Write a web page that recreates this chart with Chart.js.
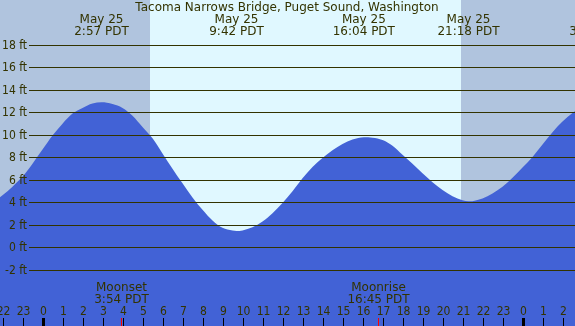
<!DOCTYPE html>
<html>
<head>
<meta charset="utf-8">
<script src="https://cdn.jsdelivr.net/npm/chart.js@4"></script>
<style>
  body { margin: 0; background: #fff; }
  #wrap { width: 575px; height: 326px; }
</style>
</head>
<body>
<div id="wrap"><canvas id="tide" width="575" height="326"></canvas></div>
<script>
// tide heights (ft), hours since midnight May 25
const tideHours = [
  -3, -2.5, -2, -1.5, -1, -0.5, 0, 0.5, 1, 1.5, 2, 2.5, 2.95,
  3.5, 4, 4.5, 5, 5.5, 6, 6.5, 7, 7.5, 8, 8.5, 9, 9.5, 9.7,
  10, 10.5, 11, 11.5, 12, 12.5, 13, 13.5, 14, 14.5, 15, 15.5, 16.07,
  16.5, 17, 17.5, 18, 18.5, 19, 19.5, 20, 20.5, 21, 21.3,
  21.5, 22, 22.5, 23, 23.5, 24, 24.5, 25, 25.5, 26, 26.5, 27,
];
const tideFeet = [
  3.6, 4.0, 4.65, 5.4, 6.3, 7.45, 8.7, 9.95, 11.0, 11.9, 12.4, 12.8, 12.9,
  12.75, 12.4, 11.7, 10.7, 9.7, 8.35, 7.0, 5.7, 4.45, 3.35, 2.4, 1.75, 1.5, 1.47,
  1.52, 1.8, 2.3, 3.05, 3.95, 5.0, 6.15, 7.15, 7.95, 8.65, 9.2, 9.6, 9.8,
  9.75, 9.55, 9.05, 8.25, 7.45, 6.6, 5.8, 5.1, 4.55, 4.2, 4.1,
  4.12, 4.35, 4.8, 5.4, 6.2, 7.1, 8.05, 9.15, 10.25, 11.2, 11.95, 12.5,
];

// high / low labels
const extremeHours = [2.95, 9.7, 16.067, 21.3, 27.7];
const extremeDates = ["May 25", "May 25", "May 25", "May 25", "May 26"];
const extremeTimes = ["2:57 PDT", "9:42 PDT", "16:04 PDT", "21:18 PDT", "3:42 PDT"];

// moon events
const moonHours = [3.9, 16.75];
const moonNames = ["Moonset", "Moonrise"];
const moonTimes = ["3:54 PDT", "16:45 PDT"];

// daylight
const sunrise = 5.37;
const sunset = 20.93;

const yTicks = [-2, 0, 2, 4, 6, 8, 10, 12, 14, 16, 18];
const hourTicks = [];
for (let h = -2; h <= 26; h++) hourTicks.push(h);

const title = "Tacoma Narrows Bridge, Puget Sound, Washington";

const textColor = "#333300";
const font = "12px 'DejaVu Sans'";
const smallFont = "12px 'DejaVu Sans Condensed', 'DejaVu Sans'";

const decor = {
  id: "decor",
  beforeDatasetsDraw(chart) {
    const { ctx, chartArea: a, scales: { x } } = chart;
    ctx.save();
    ctx.fillStyle = "#b0c4de";
    ctx.fillRect(a.left, a.top, a.right - a.left, a.bottom - a.top);
    const x0 = Math.round(x.getPixelForValue(sunrise));
    const x1 = Math.round(x.getPixelForValue(sunset));
    ctx.fillStyle = "#e0f8ff";
    ctx.fillRect(x0, a.top, x1 - x0, a.bottom - a.top);
    ctx.restore();
  },
  afterDatasetsDraw(chart) {
    const { ctx, chartArea: a, scales: { x, y } } = chart;
    ctx.save();
    ctx.fillStyle = textColor;
    ctx.strokeStyle = textColor;
    ctx.lineWidth = 1;

    // grid + y labels
    ctx.font = smallFont;
    ctx.textAlign = "right";
    ctx.textBaseline = "middle";
    yTicks.forEach((v) => {
      const py = Math.round(y.getPixelForValue(v)) + 0.5;
      ctx.beginPath();
      ctx.moveTo(29, py);
      ctx.lineTo(a.right, py);
      ctx.stroke();
      ctx.fillText(v + " ft", 27, py + 0.5);
    });

    // title
    ctx.font = font;
    ctx.textAlign = "center";
    ctx.fillText(title, 287, 8);

    // high / low labels
    extremeHours.forEach((h, i) => {
      const px = x.getPixelForValue(h);
      ctx.fillText(extremeDates[i], px, 20);
      ctx.fillText(extremeTimes[i], px, 32);
    });

    // hour ticks
    ctx.font = smallFont;
    hourTicks.forEach((h) => {
      const px = Math.round(x.getPixelForValue(h));
      const label = String(((h % 24) + 24) % 24);
      ctx.fillStyle = textColor;
      ctx.fillText(label, px + 0.5, 312);
      ctx.fillStyle = "#000";
      if (h % 24 === 0) ctx.fillRect(px - 1, 318, 3, 8);
      else ctx.fillRect(px, 318, 1, 8);
    });

    // moon events
    ctx.font = font;
    moonHours.forEach((h, i) => {
      const px = Math.round(x.getPixelForValue(h));
      ctx.fillStyle = "#ff0000";
      ctx.fillRect(px, 318, 1, 8);
      ctx.fillStyle = textColor;
      ctx.fillText(moonNames[i], px + 0.5, 288);
      ctx.fillText(moonTimes[i], px + 0.5, 300);
    });
    ctx.restore();
  },
};

new Chart(document.getElementById("tide"), {
  type: "line",
  data: {
    datasets: [
      {
        data: tideHours.map((h, i) => ({ x: h, y: tideFeet[i] })),
        fill: "start",
        backgroundColor: "#4262d6",
        borderWidth: 0,
        pointRadius: 0,
        cubicInterpolationMode: "monotone",
      },
    ],
  },
  options: {
    responsive: false,
    animation: false,
    layout: { padding: 0 },
    plugins: { legend: { display: false }, tooltip: { enabled: false } },
    scales: {
      x: { type: "linear", min: -2.125, max: 26.625, display: false },
      y: { min: -6.98, max: 22.0, display: false },
    },
  },
  plugins: [decor],
});
</script>
</body>
</html>
